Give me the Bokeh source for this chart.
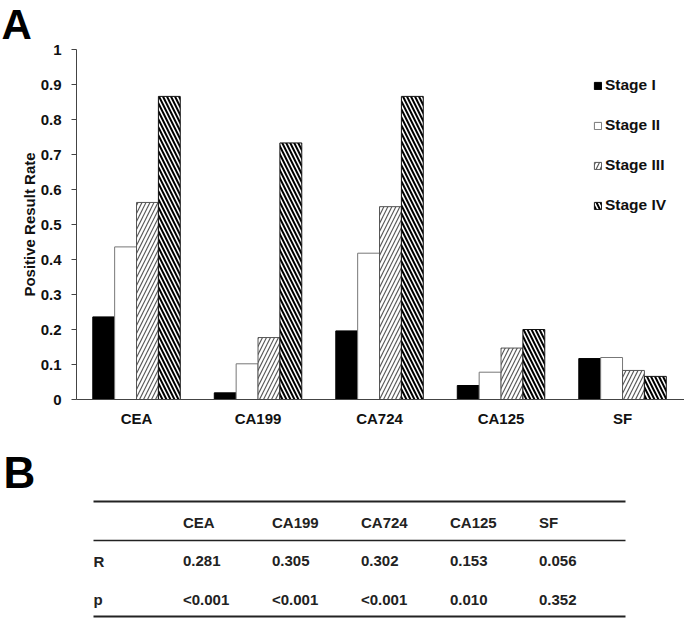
from bokeh.plotting import figure
from bokeh.models import Range1d, FixedTicker, Legend, LegendItem, ColumnDataSource
from bokeh.layouts import column
from bokeh.transform import dodge
from bokeh.embed import file_html
from bokeh.resources import INLINE
from bokeh.core.properties import value

# ---------------- data ----------------
markers = ["CEA", "CA199", "CA724", "CA125", "SF"]
stages = ["Stage I", "Stage II", "Stage III", "Stage IV"]
stage1 = [0.236, 0.019, 0.196, 0.040, 0.117]
stage2 = [0.436, 0.102, 0.418, 0.078, 0.120]
stage3 = [0.563, 0.177, 0.551, 0.147, 0.083]
stage4 = [0.866, 0.733, 0.866, 0.200, 0.066]
y_ticks = [0, 0.1, 0.2, 0.3, 0.4, 0.5, 0.6, 0.7, 0.8, 0.9, 1]
y_tick_labels = ["0", "0.1", "0.2", "0.3", "0.4", "0.5", "0.6", "0.7", "0.8", "0.9", "1"]

table_header = ["CEA", "CA199", "CA724", "CA125", "SF"]
table_rows = ["R", "p"]
r_values = ["0.281", "0.305", "0.302", "0.153", "0.056"]
p_values = ["<0.001", "<0.001", "<0.001", "0.010", "0.352"]

FONT = "Liberation Sans"
W = 684

# ---------------- panel A ----------------
FL, FT, FB = 76, 49, 34
HA = 433
x0, x1 = -0.494, 4.51

src = ColumnDataSource(dict(x=list(range(len(markers))), s1=stage1, s2=stage2, s3=stage3, s4=stage4))

pA = figure(width=W, height=HA, x_range=Range1d(x0, x1), y_range=Range1d(0, 1),
            output_backend="svg", toolbar_location=None,
            min_border_left=FL, min_border_right=0, min_border_top=FT, min_border_bottom=FB)
pA.outline_line_color = None
pA.xgrid.visible = False
pA.ygrid.visible = False

pA.title.text = "A"
pA.title.text_font = FONT
pA.title.text_font_style = "bold"
pA.title.text_font_size = "42px"
pA.title.text_line_height = 0.85
pA.title.text_color = "black"
pA.title.align = "left"
pA.title.vertical_align = "top"
pA.title.standoff = 0
pA.title.offset = -75

offsets = [-0.27, -0.09, 0.09, 0.27]
bw = 0.18
styles = [
    dict(fill_color="black", line_color="black"),
    dict(fill_color="white", line_color="#777777"),
    dict(fill_color="white", line_color="#555555", hatch_pattern="/", hatch_color="#5a5a5a",
         hatch_scale=8, hatch_weight=1.2),
    dict(fill_color="white", line_color="#111111", hatch_pattern="\\", hatch_color="#000000",
         hatch_scale=8, hatch_weight=2.0),
]
renderers = []
for k, col in enumerate(["s1", "s2", "s3", "s4"]):
    r = pA.vbar(x=dodge("x", offsets[k]), top=col, bottom=0, width=bw, source=src,
                line_width=1, **styles[k])
    renderers.append(r)

xa = pA.xaxis[0]
xa.ticker = FixedTicker(ticks=list(range(len(markers))))
xa.major_label_overrides = {i: m for i, m in enumerate(markers)}
xa.major_tick_out = 0
xa.major_tick_in = 0
xa.minor_tick_out = 0
xa.minor_tick_in = 0
xa.major_label_standoff = 10
xa.axis_line_color = "#444444"
xa.major_label_text_font = FONT
xa.major_label_text_font_style = "bold"
xa.major_label_text_font_size = "15px"
xa.major_label_text_color = "#111111"

ya = pA.yaxis[0]
ya.ticker = FixedTicker(ticks=y_ticks)
ya.major_label_overrides = {t: l for t, l in zip(y_ticks, y_tick_labels)}
ya.major_tick_out = 5
ya.major_tick_in = 0
ya.minor_tick_out = 0
ya.minor_tick_in = 0
ya.major_label_standoff = 10
ya.axis_line_color = "#444444"
ya.major_tick_line_color = "#444444"
ya.major_label_text_font = FONT
ya.major_label_text_font_style = "bold"
ya.major_label_text_font_size = "15px"
ya.major_label_text_color = "#111111"
ya.axis_label = "Positive Result Rate"
ya.axis_label_text_font = FONT
ya.axis_label_text_font_style = "bold"
ya.axis_label_text_font_size = "15px"
ya.axis_label_text_color = "#111111"
ya.axis_label_standoff = 0

legend = Legend(items=[LegendItem(label=s, renderers=[r]) for s, r in zip(stages, renderers)],
                location=(517, 184), orientation="vertical",
                glyph_width=9, glyph_height=9, label_height=20, spacing=20,
                label_standoff=3, padding=0, margin=0,
                label_text_font=FONT, label_text_font_style="bold",
                label_text_font_size="15.5px", label_text_color="#111111",
                background_fill_alpha=0, border_line_color=None)
pA.add_layout(legend)

# ---------------- panel B (table) ----------------
HB = 186
BT = 63
pB = figure(width=W, height=HB, x_range=Range1d(FL, W), y_range=Range1d(HA + HB, HA + BT),
            output_backend="svg", toolbar_location=None,
            x_axis_location=None, y_axis_location=None,
            min_border_left=FL, min_border_right=0, min_border_top=BT, min_border_bottom=0)
pB.outline_line_color = None
pB.xgrid.visible = False
pB.ygrid.visible = False

pB.title.text = "B"
pB.title.text_font = FONT
pB.title.text_font_style = "bold"
pB.title.text_font_size = "44px"
pB.title.text_color = "black"
pB.title.align = "left"
pB.title.vertical_align = "bottom"
pB.title.standoff = 0
pB.title.offset = -73

col_x0, col_step = 182.5, 89.0
label_x = 93.0
row_y0, row_step = 522.0, 38.5

hx = [col_x0 + col_step * i for i in range(len(table_header))]
pB.text(x=hx, y=[row_y0] * len(hx), text=table_header,
        text_font=value(FONT), text_font_style="bold", text_font_size="15px",
        text_color="#222222", text_baseline="middle", text_align="left")
for k, vals in enumerate([r_values, p_values]):
    yy = row_y0 + row_step * (k + 1)
    pB.text(x=[label_x] + hx, y=[yy] * (len(hx) + 1), text=[table_rows[k]] + vals,
            text_font=value(FONT), text_font_style="bold", text_font_size="15px",
            text_color="#222222", text_baseline="middle", text_align="left")

line_x1 = 625.0
pB.segment(x0=[label_x], x1=[line_x1], y0=[501], y1=[501], line_color="#222222", line_width=2)
pB.segment(x0=[label_x], x1=[line_x1], y0=[540], y1=[540], line_color="#222222", line_width=1.5)
pB.segment(x0=[label_x], x1=[line_x1], y0=[616], y1=[616], line_color="#222222", line_width=2)

layout = column(pA, pB, spacing=0)
open("out.html", "w").write(file_html(layout, INLINE))
